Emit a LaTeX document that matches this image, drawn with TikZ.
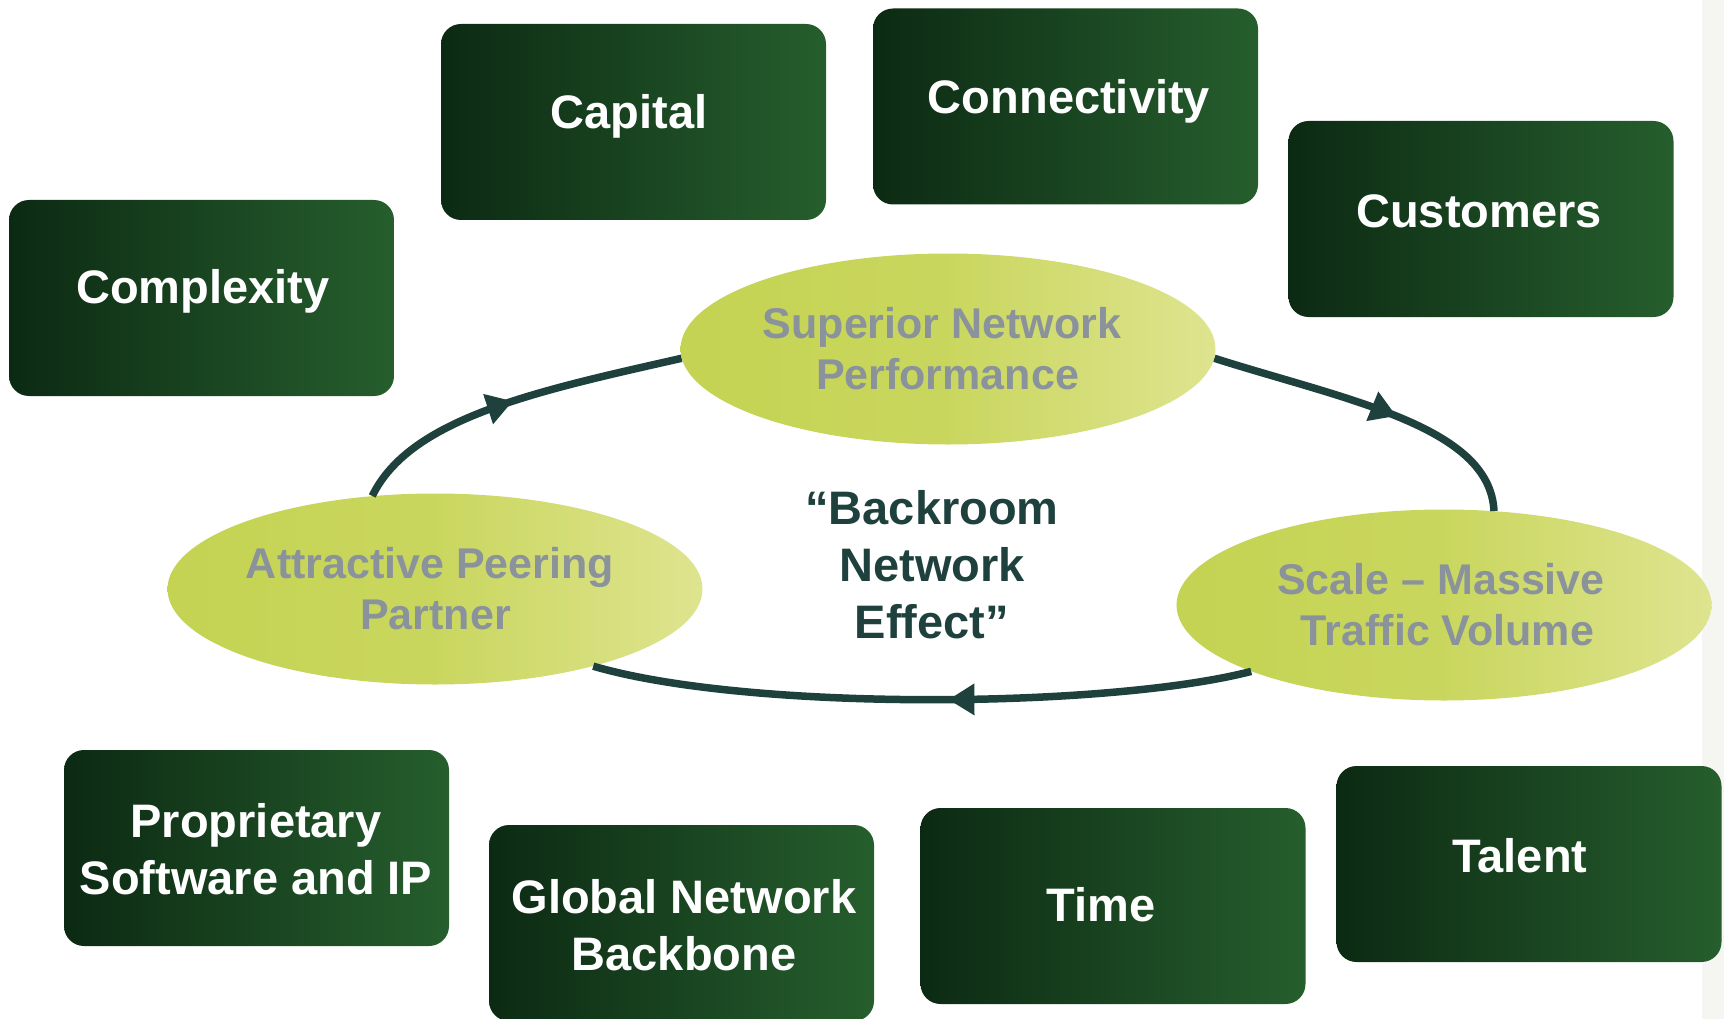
\documentclass[tikz,border=0pt]{standalone}
\usepackage{fontspec}
\setmainfont{Liberation Sans}
\usetikzlibrary{shapes.geometric,arrows.meta,decorations.markings}
\definecolor{boxL}{RGB}{12,42,19}
\definecolor{boxR}{RGB}{38,94,45}
\definecolor{limeL}{RGB}{196,211,82}
\definecolor{limeR}{RGB}{222,228,143}
\definecolor{grayT}{RGB}{138,147,155}
\definecolor{darkteal}{RGB}{31,65,61}
\definecolor{edgeband}{RGB}{245,246,241}
\begin{document}
\begin{tikzpicture}[x=1pt,y=-1pt,
  gbox/.style={rectangle, rounded corners=20pt, minimum width=385pt, minimum height=196pt, inner sep=0pt, left color=boxL, right color=boxR, draw=none},
  btext/.style={text=white, font=\fontsize{47}{57}\selectfont\bfseries, align=center, inner sep=0pt},
  bline/.style={btext, text height=34pt, text depth=0pt},
  oval/.style={ellipse, minimum width=535pt, minimum height=191pt, inner sep=0pt, left color=limeL, right color=limeR, middle color=limeL!80!limeR},
  otext/.style={text=grayT, font=\fontsize{43}{51}\selectfont\bfseries, align=center, inner sep=0pt},
  loopline/.style={draw=darkteal, line width=7.5pt, postaction={decorate}},
  tipmark/.style={decoration={markings, mark=at position #1 with {\arrow[darkteal]{Triangle[length=26pt,width=30pt]}}}},
]
\useasboundingbox (0,0) rectangle (1724,1019);
\fill[edgeband] (1702,0) rectangle (1724,1019);

% ellipses
\node[oval] (sup) at (948,349) {};
\node[oval] (att) at (435,589) {};
\node[oval] (scale) at (1444,605) {};

% cycle connectors
\draw[loopline, tipmark=0.5] (att.124) .. controls (410,418) and (537,391) .. (sup.182);
\draw[loopline, tipmark=0.57] (sup.358) .. controls (1346,400) and (1490,426) .. (scale.62);
\draw[loopline, tipmark=0.46] (scale.199) .. controls (1110,708) and (750,712) .. (att.334);

\node[otext] (supT) at (942,349) {Superior Network\\\hspace*{11pt}Performance};
\node[otext] (attT) at (430,589) {Attractive Peering\\\hspace*{11pt}Partner};
\node[otext] (scaleT) at (1441,605) {Scale – Massive\\\hspace*{13pt}Traffic Volume};

\node[font=\fontsize{47}{57}\selectfont\bfseries, text=darkteal, align=center, inner sep=0pt] (effect) at (932,565) {“Backroom\\Network\\Effect”};

% boxes
\node[gbox] (capital) at (633.5,122) {};
\node[gbox] (connectivity) at (1065.5,106.5) {};
\node[gbox] (customers) at (1481,219) {};
\node[gbox] (complexity) at (201.5,298) {};
\node[gbox] (proprietary) at (256.5,848) {};
\node[gbox] (global) at (681.5,923) {};
\node[gbox] (time) at (1113,906) {};
\node[gbox] (talent) at (1529,864) {};

\node[bline] (capitalT) at (629,112) {Capital};
\node[bline] (connectivityT) at (1069,97) {Connectivity};
\node[bline] (customersT) at (1479,211) {Customers};
\node[bline] (complexityT) at (203,286) {Complexity};
\node[bline] (timeT) at (1101,904) {Time};
\node[bline] (talentT) at (1520,855) {Talent};
\node[btext] (proprietaryT) at (256,849) {Proprietary\\Software and IP};
\node[btext] (globalT) at (684,925) {Global Network\\Backbone};
\end{tikzpicture}
\end{document}
